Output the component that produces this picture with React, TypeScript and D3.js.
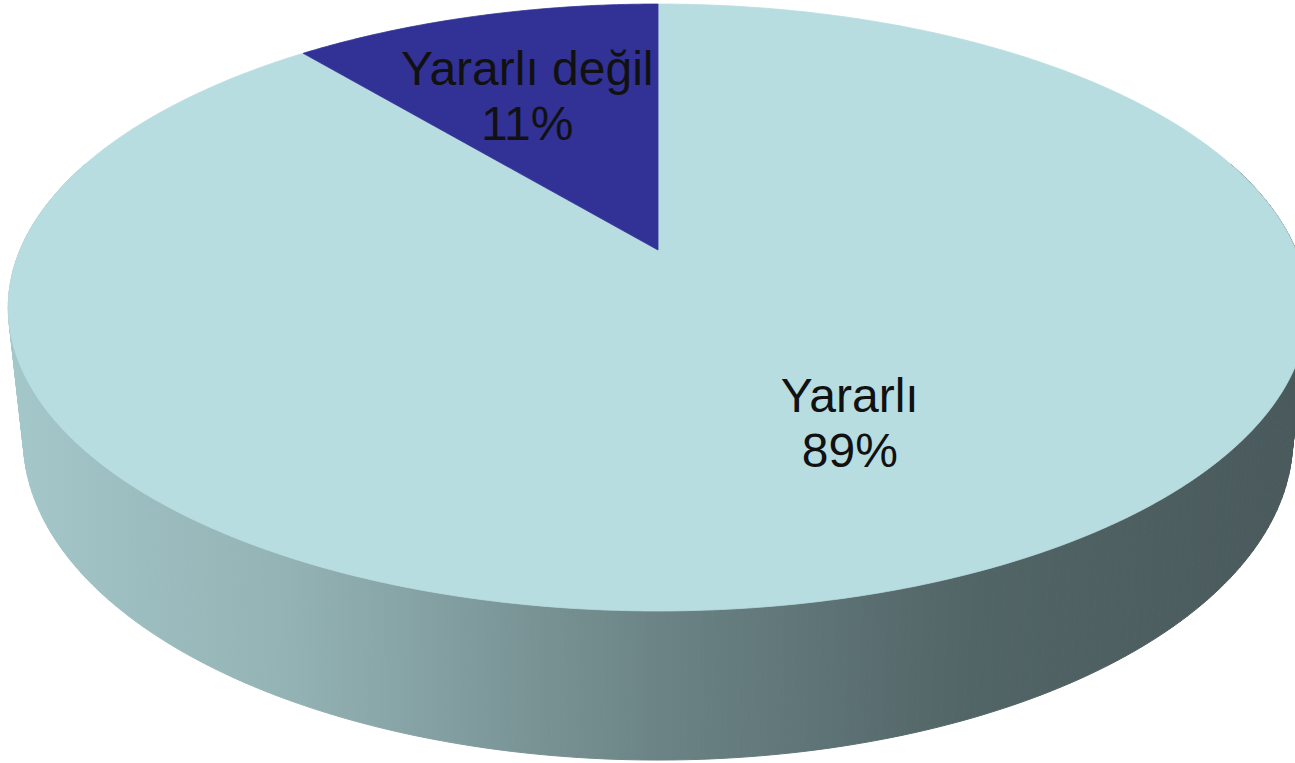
import React from "react";
import * as d3 from "d3";

const categories = ["Yararlı", "Yararlı değil"];
const values = [89, 11];
const percentLabels = ["89%", "11%"];
const colors = ["#b7dde1", "#323296"];

const W = 1295;
const H = 763;
const CX = 658;
const CY = 250;
// camera model
const ALPHA = Math.asin(0.4586); // tilt
const L = 4.69; // camera distance (in pie radii)
const F = 2992; // focal length in px
const T = 0.2337; // pie thickness (in radii)

function proj(theta: number, r: number, depth: number): [number, number] {
  const X = r * Math.sin(theta);
  const Z = -r * Math.cos(theta);
  const Y = -T * depth;
  const u = X;
  const v = Y * Math.cos(ALPHA) - Z * Math.sin(ALPHA);
  const w = Y * Math.sin(ALPHA) + Z * Math.cos(ALPHA);
  const k = F / (L - w);
  return [CX + u * k, CY - v * k];
}

const labelOffsets: [number, number, number][] = [
  // radius fraction, dx, dy
  [0.55, 60, 6],
  [0.615, -11, 0],
];

export default function App() {
  const pie = d3.pie<number>().sort(null).value((d) => d);
  const arcs = pie(values);
  const N = 360;
  const full = d3.range(N + 1).map((i) => (i / N) * Math.PI * 2);

  const quads: string[] = [];
  for (let i = 0; i < N; i++) {
    const t0 = full[i];
    const t1 = full[i + 1];
    const z0 = -Math.cos(t0);
    const z1 = -Math.cos(t1);
    if (z0 < -0.3 && z1 < -0.3) continue;
    const a = proj(t0, 1, 0);
    const b = proj(t1, 1, 0);
    const c = proj(t1, 1, 1);
    const d = proj(t0, 1, 1);
    quads.push(`M${a[0]},${a[1]}L${b[0]},${b[1]}L${c[0]},${c[1]}L${d[0]},${d[1]}Z`);
  }

  const slicePaths = arcs.map((a) => {
    const steps = Math.max(2, Math.ceil(((a.endAngle - a.startAngle) / (Math.PI * 2)) * 720));
    const pts = d3.range(steps + 1).map((i) => {
      const t = a.startAngle + ((a.endAngle - a.startAngle) * i) / steps;
      return proj(t, 1, 0);
    });
    const c = proj(0, 0, 0);
    return "M" + c.join(",") + pts.map((p) => "L" + p.join(",")).join("") + "Z";
  });

  const lineH = 55;

  return (
    <svg
      width={W}
      height={H}
      style={{ position: "absolute", left: 0, top: 0, background: "#fff" }}
      fontFamily="Arial, 'Liberation Sans', sans-serif"
    >
      <defs>
        <linearGradient id="sideGrad" gradientUnits="userSpaceOnUse" x1={10} y1={0} x2={1295} y2={0}>
          <stop offset="0" stopColor="#a4c7c9" />
          <stop offset="0.22" stopColor="#93b2b4" />
          <stop offset="0.5" stopColor="#6c8486" />
          <stop offset="0.75" stopColor="#516466" />
          <stop offset="1" stopColor="#4a5a5c" />
        </linearGradient>
      </defs>
      <g>
        {quads.map((q, i) => (
          <path key={i} d={q} fill="url(#sideGrad)" stroke="url(#sideGrad)" strokeWidth={1} />
        ))}
      </g>
      <g>
        {slicePaths.map((d, i) => (
          <path key={i} d={d} fill={colors[i]} stroke={colors[i]} strokeWidth={0.8} />
        ))}
      </g>
      <g>
        {arcs.map((a, i) => {
          const mid = (a.startAngle + a.endAngle) / 2;
          const [r, dx, dy] = labelOffsets[i];
          const [x, y] = proj(mid, r, 0);
          const lx = x + dx;
          const ly = y + dy;
          return (
            <text key={i} textAnchor="middle" fontSize={48} fill="#111">
              <tspan x={lx} y={ly - 12}>{categories[i]}</tspan>
              <tspan x={lx} y={ly - 12 + lineH}>{percentLabels[i]}</tspan>
            </text>
          );
        })}
      </g>
    </svg>
  );
}
